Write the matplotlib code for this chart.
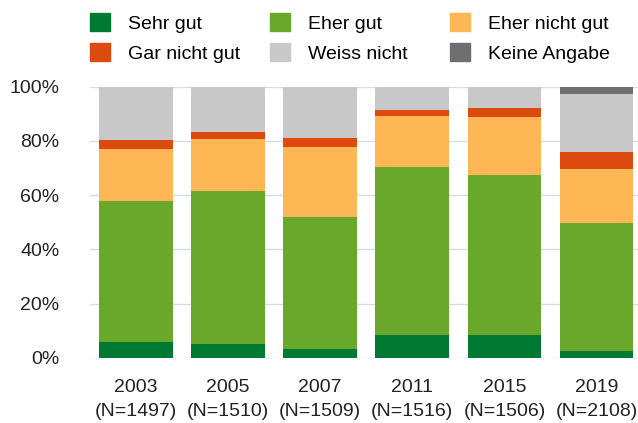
import numpy as np
import matplotlib.pyplot as plt
from matplotlib.patches import Patch

plt.rcParams['font.family'] = ['Liberation Sans', 'DejaVu Sans']

years = ['2003', '2005', '2007', '2011', '2015', '2019']
n_values = [1497, 1510, 1509, 1516, 1506, 2108]
categories = ['Sehr gut', 'Eher gut', 'Eher nicht gut',
              'Gar nicht gut', 'Weiss nicht', 'Keine Angabe']
sehr_gut = [5.9, 5.2, 3.2, 8.3, 8.3, 2.4]
eher_gut = [52.0, 56.4, 48.9, 62.2, 59.2, 47.4]
eher_nicht_gut = [19.3, 19.3, 25.8, 18.6, 21.5, 20.0]
gar_nicht_gut = [3.1, 2.3, 3.1, 2.3, 3.2, 6.0]
weiss_nicht = [19.7, 16.8, 19.0, 8.6, 7.8, 21.4]
keine_angabe = [0, 0, 0, 0, 0, 2.8]

colors = ['#007a33', '#69a82b', '#ffb755', '#dc4a0f', '#c8c8c8', '#6e6e6e']
series = [sehr_gut, eher_gut, eher_nicht_gut, gar_nicht_gut, weiss_nicht, keine_angabe]

fig = plt.figure(figsize=(6.38, 4.23), dpi=100, facecolor='w')
ax = fig.add_axes([0.141, 0.154, 0.859, 0.641])

x = np.arange(len(years))
bottom = np.zeros(len(years))
for vals, col in zip(series, colors):
    ax.bar(x, vals, 0.8, bottom=bottom, color=col, zorder=2)
    bottom += np.array(vals)

ax.set_ylim(0, 100)
ax.set_xlim(-0.5, 5.45)
ax.set_yticks(np.arange(0, 101, 20))
ax.set_yticklabels(['%d%%' % v for v in range(0, 101, 20)], fontsize=14, color='#222222')
ax.set_xticks(x)
ax.set_xticklabels(['%s\n(N=%d)' % (y, n) for y, n in zip(years, n_values)],
                   fontsize=14, color='#222222', linespacing=1.6)
ax.tick_params(axis='y', length=0, pad=22)
ax.tick_params(axis='x', length=0, pad=15)
ax.grid(axis='y', color='#d3dde2', linewidth=1, zorder=0)
for s in ax.spines.values():
    s.set_visible(False)

# legend: three fixed-width columns, two rows each
handles = [Patch(color=c) for c in colors]
col_x = [90, 270, 450]
for i, cx in enumerate(col_x):
    leg = fig.legend([handles[i], handles[i + 3]], [categories[i], categories[i + 3]],
                     loc='upper left', bbox_to_anchor=(cx / 638, 1 - 13 / 423),
                     frameon=False, fontsize=14, borderpad=0, borderaxespad=0,
                     handlelength=1.03, handleheight=1.03, handletextpad=0.9,
                     labelspacing=0.55)

plt.savefig('out.png', dpi=100)
